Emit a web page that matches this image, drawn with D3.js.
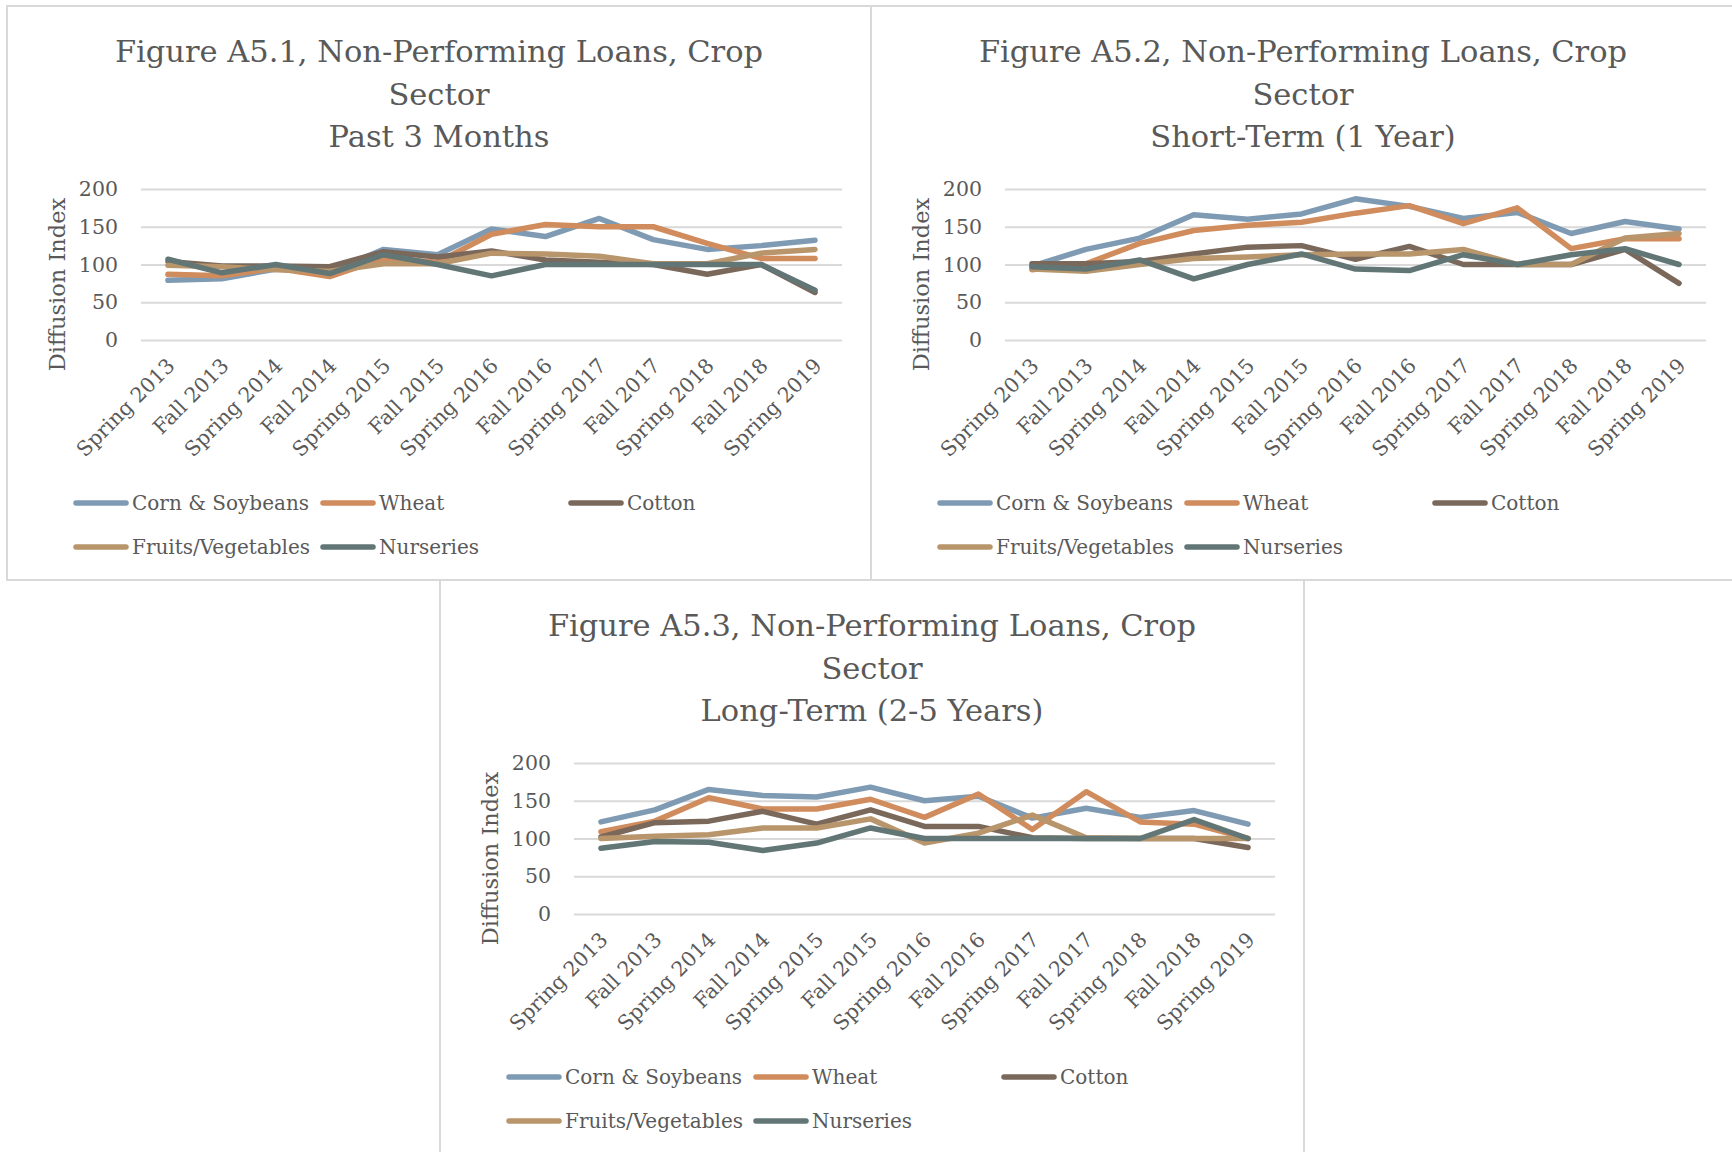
<!DOCTYPE html>
<html>
<head>
<meta charset="utf-8">
<script src="https://cdn.jsdelivr.net/npm/d3@7"></script>
<style>
  body { margin: 0; background: #fff; }
  text { font-family: "DejaVu Serif", serif; fill: #595959; }
</style>
</head>
<body>
<svg id="chart" width="1732" height="1152"></svg>
<script>
const categories = ['Spring 2013', 'Fall 2013', 'Spring 2014', 'Fall 2014', 'Spring 2015', 'Fall 2015',
  'Spring 2016', 'Fall 2016', 'Spring 2017', 'Fall 2017', 'Spring 2018', 'Fall 2018', 'Spring 2019'];
const seriesNames = ['Corn & Soybeans', 'Wheat', 'Cotton', 'Fruits/Vegetables', 'Nurseries'];
const seriesColors = ['#7f9bb3', '#d08c5c', '#7a685b', '#b8956b', '#627676'];
const yTicks = [0, 50, 100, 150, 200];

// Figure A5.1 - past 3 months
const pastCorn = [79, 81, 94, 90, 120, 113, 147, 137, 161, 133, 120, 125, 132];
const pastWheat = [87, 85, 95, 84, 108, 103, 140, 153, 150, 150, 128, 108, 108];
const pastCotton = [104, 98, 98, 97, 117, 110, 118, 106, 103, 100, 87, 100, 63];
const pastFruits = [99, 97, 93, 91, 101, 101, 115, 114, 111, 101, 101, 115, 120];
const pastNurseries = [107, 89, 100, 88, 113, 100, 85, 100, 100, 100, 100, 100, 66];

// Figure A5.2 - short-term
const shortCorn = [98, 120, 135, 166, 160, 167, 187, 177, 161, 169, 141, 157, 147];
const shortWheat = [93, 101, 128, 145, 152, 156, 168, 178, 154, 175, 121, 134, 134];
const shortCotton = [101, 101, 104, 114, 123, 125, 107, 124, 100, 100, 100, 120, 75];
const shortFruits = [94, 91, 100, 108, 110, 113, 114, 114, 120, 100, 100, 135, 141];
const shortNurseries = [97, 94, 106, 81, 100, 114, 94, 92, 113, 100, 113, 121, 100];

// Figure A5.3 - long-term
const longCorn = [122, 138, 165, 157, 155, 168, 150, 156, 127, 140, 128, 137, 119];
const longWheat = [109, 123, 154, 139, 139, 152, 128, 159, 112, 162, 122, 119, 100];
const longCotton = [102, 121, 123, 136, 119, 138, 116, 116, 101, 100, 100, 100, 88];
const longFruits = [100, 103, 105, 114, 114, 126, 94, 107, 131, 101, 100, 100, 100];
const longNurseries = [87, 96, 95, 84, 94, 114, 100, 100, 100, 100, 100, 125, 100];

const panels = [
  { title: ['Figure A5.1, Non-Performing Loans, Crop', 'Sector', 'Past 3 Months'],
    series: [pastCorn, pastWheat, pastCotton, pastFruits, pastNurseries], left: 7, top: 6 },
  { title: ['Figure A5.2, Non-Performing Loans, Crop', 'Sector', 'Short-Term (1 Year)'],
    series: [shortCorn, shortWheat, shortCotton, shortFruits, shortNurseries], left: 871, top: 6 },
  { title: ['Figure A5.3, Non-Performing Loans, Crop', 'Sector', 'Long-Term (2-5 Years)'],
    series: [longCorn, longWheat, longCotton, longFruits, longNurseries], left: 440, top: 580 }
];

const W = 864, H = 574;
const plot = { left: 134, right: 835, top: 183, bottom: 334 };

const svg = d3.select('#chart');
svg.append('rect').attr('width', 1732).attr('height', 1152).attr('fill', '#fff');

const x = d3.scaleBand().domain(categories).range([plot.left, plot.right]);
const y = d3.scaleLinear().domain([0, 200]).range([plot.bottom, plot.top]);

function drawPanel(p) {
  let g = svg.append('g').attr('transform', `translate(${p.left},${p.top})`);

  g.append('rect')
    .attr('width', W).attr('height', H)
    .attr('fill', '#fff').attr('stroke', '#d9d9d9').attr('stroke-width', 2);

  // title
  g.append('text')
    .attr('x', W / 2).attr('y', 56)
    .attr('text-anchor', 'middle')
    .style('font-size', '30.5px')
    .selectAll('tspan')
    .data(p.title)
    .join('tspan')
    .attr('x', W / 2)
    .attr('dy', (d, i) => i === 0 ? 0 : 42.5)
    .text((d) => d);

  // gridlines + y labels
  let yAxis = d3.axisLeft(y).tickValues(yTicks).tickSize(-(plot.right - plot.left)).tickPadding(23);
  let ya = g.append('g').attr('transform', `translate(${plot.left},0)`).call(yAxis);
  ya.select('.domain').remove();
  ya.selectAll('.tick line').attr('stroke', '#d9d9d9').attr('stroke-width', 2);
  ya.selectAll('.tick text').style('font-size', '20.5px').attr('fill', '#595959')
    .style('font-family', '"DejaVu Serif", serif');

  // x labels
  let xAxis = d3.axisBottom(x).tickSize(0).tickPadding(0);
  let xa = g.append('g').attr('transform', `translate(0,${plot.bottom})`).call(xAxis);
  xa.select('.domain').remove();
  xa.selectAll('.tick text')
    .style('font-size', '20.5px').attr('fill', '#595959')
    .style('font-family', '"DejaVu Serif", serif')
    .attr('text-anchor', 'end')
    .attr('dy', null)
    .attr('y', 0)
    .attr('transform', 'translate(8,27) rotate(-45)');

  g.append('text')
    .attr('transform', `translate(50,${(plot.top + plot.bottom) / 2 + 20}) rotate(-90)`)
    .attr('text-anchor', 'middle')
    .attr('dy', '0.35em')
    .style('font-size', '22.5px')
    .text('Diffusion Index');

  let line = d3.line()
    .x((d, i) => x(categories[i]) + x.bandwidth() / 2)
    .y((d) => y(d));

  p.series.forEach((values, idx) => {
    g.append('path')
      .attr('d', line(values))
      .attr('fill', 'none')
      .attr('stroke', seriesColors[idx])
      .attr('stroke-width', 5.5)
      .attr('stroke-linejoin', 'round')
      .attr('stroke-linecap', 'round');
  });

  // legend, 3 columns
  const colX = [67, 314, 562];
  const rowY = [497, 541];
  seriesNames.forEach((name, idx) => {
    let lx = colX[idx % 3], ly = rowY[Math.floor(idx / 3)];
    let item = g.append('g').attr('transform', `translate(${lx},${ly})`);
    item.append('line')
      .attr('x1', 2).attr('x2', 52)
      .attr('stroke', seriesColors[idx]).attr('stroke-width', 5.5).attr('stroke-linecap', 'round');
    item.append('text')
      .attr('x', 58).attr('dy', '0.35em')
      .style('font-size', '20px')
      .text(name);
  });
}

panels.forEach(drawPanel);
</script>
</body>
</html>
